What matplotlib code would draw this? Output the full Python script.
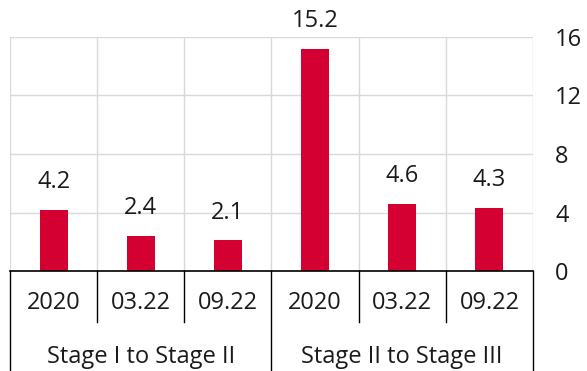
import matplotlib.pyplot as plt
from matplotlib import transforms
from matplotlib.lines import Line2D

# 数据
periods = ["2020", "03.22", "09.22", "2020", "03.22", "09.22"]
values = [4.2, 2.4, 2.1, 15.2, 4.6, 4.3]
groups = ["Stage I to Stage II", "Stage II to Stage III"]
group_size = 3
y_ticks = [0, 4, 8, 12, 16]

bar_color = "#d40032"
grid_color = "#d9d9d9"
text_color = "#1a1a1a"
fs = 17

plt.rcParams["font.family"] = ["Open Sans", "DejaVu Sans"]

fig = plt.figure(figsize=(5.87, 3.71), dpi=100)
ax = fig.add_axes([0.017, 0.2695, 0.891, 0.6308])

x = list(range(len(values)))
ax.bar(x, values, width=0.32, color=bar_color, zorder=3)

# 数据标签
for xi, v in zip(x, values):
    ax.annotate(f"{v:.1f}", xy=(xi, v), xytext=(0, 20), textcoords="offset points",
                ha="center", va="center", fontsize=fs, color=text_color)

ax.set_xlim(-0.5, len(values) - 0.5)
ax.set_ylim(0, 16)

# 网格线
ax.set_yticks(y_ticks)
ax.set_xticks([i - 0.5 for i in range(len(values) + 1)], minor=True)
ax.set_xticks([])
ax.grid(axis="y", color=grid_color, linewidth=1, zorder=0)
ax.grid(axis="x", which="minor", color=grid_color, linewidth=1, zorder=0)
ax.tick_params(axis="x", which="minor", length=0)

# y轴放在右侧
ax.yaxis.tick_right()
ax.tick_params(axis="y", length=0, pad=16, labelsize=fs, labelcolor=text_color)

for side in ["top", "left", "right"]:
    ax.spines[side].set_visible(False)
ax.spines["bottom"].set_color("black")
ax.spines["bottom"].set_linewidth(1.2)
ax.spines["bottom"].set_zorder(4)

# 两级分类轴
trans = transforms.blended_transform_factory(ax.transData, ax.transAxes)
for xi, p in zip(x, periods):
    ax.text(xi, -0.137, p, transform=trans, ha="center", va="center",
            fontsize=fs, color=text_color)

for i in range(len(values) + 1):
    b = i - 0.5
    if i % group_size == 0:
        y_end = -0.43
    else:
        y_end = -0.218
    ax.add_line(Line2D([b, b], [0, y_end], transform=trans, color="black",
                       linewidth=1, clip_on=False))

for gi, g in enumerate(groups):
    center = gi * group_size + (group_size - 1) / 2
    ax.text(center, -0.368, g, transform=trans, ha="center", va="center",
            fontsize=fs, color=text_color)

plt.savefig("out.png", dpi=100)
plt.close()
